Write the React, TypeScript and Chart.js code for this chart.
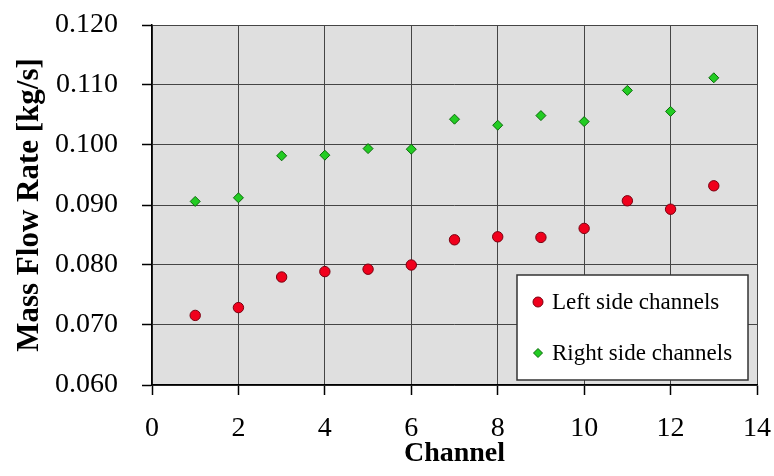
import React, { useEffect, useRef } from "react";
import { Chart, registerables } from "chart.js";

Chart.register(...registerables);

const channels = [1, 2, 3, 4, 5, 6, 7, 8, 9, 10, 11, 12, 13];
const leftSide = [0.0716, 0.0729, 0.0780, 0.0789, 0.0793, 0.0800, 0.0842, 0.0847, 0.0846, 0.0861, 0.0907, 0.0893, 0.0932];
const rightSide = [0.0906, 0.0912, 0.0982, 0.0983, 0.0994, 0.0993, 0.1043, 0.1033, 0.1049, 0.1039, 0.1091, 0.1056, 0.1112];
const legendLabels = ["Left side channels", "Right side channels"];
const xTitle = "Channel";
const yTitle = "Mass Flow Rate [kg/s]";

const SERIF = "'Liberation Serif', 'Times New Roman', serif";
const RED = "#f0001c";
const RED_BORDER = "#7a0010";
const GREEN = "#22cc22";
const GREEN_BORDER = "#0a6a0a";

const plotBg = {
  id: "plotBg",
  beforeDraw(chart: any) {
    const { ctx, chartArea } = chart;
    ctx.save();
    ctx.fillStyle = "#dfdfdf";
    ctx.fillRect(chartArea.left, chartArea.top, chartArea.right - chartArea.left, chartArea.bottom - chartArea.top);
    ctx.restore();
  },
};

const insideLegend = {
  id: "insideLegend",
  afterDraw(chart: any) {
    const { ctx, chartArea } = chart;
    const x0 = chartArea.right - 240;
    const y0 = chartArea.bottom - 110;
    const w = 231;
    const h = 105;
    ctx.save();
    ctx.fillStyle = "#ffffff";
    ctx.fillRect(x0, y0, w, h);
    ctx.strokeStyle = "#333333";
    ctx.lineWidth = 1.5;
    ctx.strokeRect(x0, y0, w, h);
    ctx.font = `23px ${SERIF}`;
    ctx.textBaseline = "middle";
    ctx.textAlign = "left";
    const rows = [
      { y: y0 + 27, style: "circle", r: 5, fill: RED, border: RED_BORDER },
      { y: y0 + 78, style: "rectRot", r: 4.5, fill: GREEN, border: GREEN_BORDER },
    ];
    rows.forEach((row, i) => {
      ctx.fillStyle = row.fill;
      ctx.strokeStyle = row.border;
      ctx.lineWidth = 1;
      ctx.beginPath();
      if (row.style === "circle") {
        ctx.arc(x0 + 21, row.y, row.r, 0, Math.PI * 2);
      } else {
        ctx.moveTo(x0 + 21, row.y - row.r);
        ctx.lineTo(x0 + 21 + row.r, row.y);
        ctx.lineTo(x0 + 21, row.y + row.r);
        ctx.lineTo(x0 + 21 - row.r, row.y);
        ctx.closePath();
      }
      ctx.fill();
      ctx.stroke();
      ctx.fillStyle = "#000000";
      ctx.fillText(legendLabels[i], x0 + 35, row.y + 1);
    });
    ctx.restore();
  },
};

function zeroPad(scale: any) {
  scale.paddingTop = 0;
  scale.paddingBottom = 0;
  scale.paddingLeft = 0;
  scale.paddingRight = 0;
}

export default function App() {
  const ref = useRef<HTMLCanvasElement>(null);

  useEffect(() => {
    if (!ref.current) return;
    const chart = new Chart(ref.current, {
      type: "scatter",
      data: {
        datasets: [
          {
            label: legendLabels[0],
            data: channels.map((c, i) => ({ x: c, y: leftSide[i] })),
            pointStyle: "circle",
            pointRadius: 5.2,
            backgroundColor: RED,
            borderColor: RED_BORDER,
            borderWidth: 1,
          },
          {
            label: legendLabels[1],
            data: channels.map((c, i) => ({ x: c, y: rightSide[i] })),
            pointStyle: "rectRot",
            pointRadius: 5,
            backgroundColor: GREEN,
            borderColor: GREEN_BORDER,
            borderWidth: 1,
          },
        ],
      },
      options: {
        responsive: false,
        animation: false,
        devicePixelRatio: 1,
        layout: { padding: { top: 25, right: 17, bottom: 0, left: 0 } },
        plugins: {
          legend: { display: false },
          tooltip: { enabled: false },
        },
        scales: {
          x: {
            type: "linear",
            min: 0,
            max: 14,
            afterFit(scale: any) {
              scale.height = 91;
              zeroPad(scale);
            },
            ticks: {
              stepSize: 2,
              color: "#000",
              font: { family: SERIF, size: 28 },
              padding: 17,
              maxRotation: 0,
            },
            grid: {
              color: "#454545",
              lineWidth: 1,
              drawTicks: true,
              tickLength: 10,
              tickColor: "#000",
              tickWidth: 1.5,
            },
            border: { display: true, color: "#000", width: 1.5 },
            title: {
              display: true,
              text: xTitle,
              color: "#000",
              font: { family: SERIF, size: 28, weight: "bold" },
              padding: { top: 0, bottom: 5 },
            },
          },
          y: {
            type: "linear",
            min: 0.06,
            max: 0.12,
            afterFit(scale: any) {
              scale.width = 152;
              zeroPad(scale);
            },
            ticks: {
              stepSize: 0.01,
              color: "#000",
              font: { family: SERIF, size: 28 },
              padding: 24,
              callback: (v: any) => Number(v).toFixed(3),
            },
            grid: {
              color: "#454545",
              lineWidth: 1,
              drawTicks: true,
              tickLength: 10,
              tickColor: "#000",
              tickWidth: 1.5,
            },
            border: { display: true, color: "#000", width: 1.5 },
            title: {
              display: true,
              text: yTitle,
              color: "#000",
              font: { family: SERIF, size: 31, weight: "bold" },
              padding: { top: 11, bottom: 0 },
            },
          },
        },
      },
      plugins: [plotBg, insideLegend],
    });
    return () => chart.destroy();
  }, []);

  return (
    <div style={{ position: "absolute", left: 0, top: 0, width: 774, height: 476, background: "#fff" }}>
      <canvas ref={ref} width={774} height={476} style={{ display: "block" }} />
    </div>
  );
}
